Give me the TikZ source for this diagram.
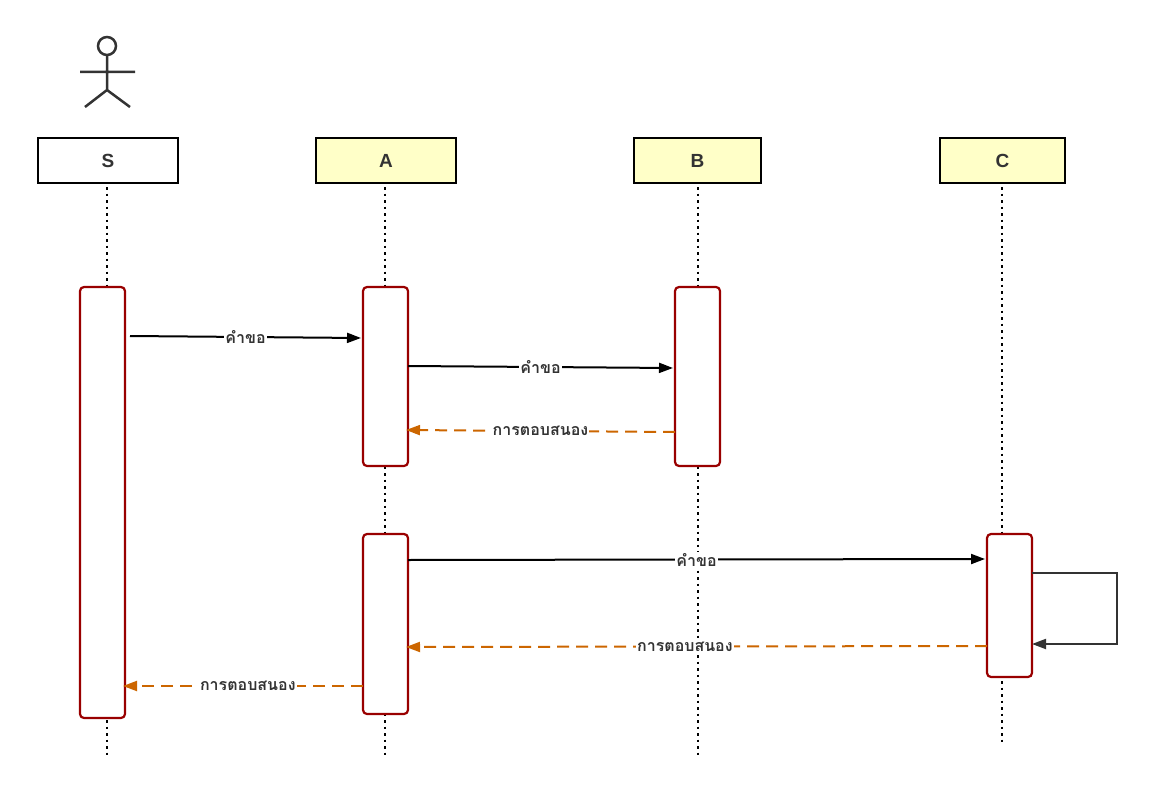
\documentclass[tikz,border=0pt]{standalone}
\usepackage{fontspec}
\setmainfont{Liberation Sans}
\newfontfamily\thaifont[Script=Thai]{Loma}
\usetikzlibrary{arrows.meta}
\definecolor{hdr}{HTML}{FFFFC8}
\definecolor{act}{HTML}{990000}
\definecolor{resp}{HTML}{CC6600}
\definecolor{txt}{HTML}{333333}
\tikzset{
 head/.style={draw=black,line width=2pt,minimum height=45pt,inner sep=0pt,font=\bfseries\fontsize{19}{19}\selectfont,text=txt},
 life/.style={line width=2.5pt,dash pattern=on 2.5pt off 4pt},
 actbox/.style={draw=act,fill=white,line width=2.2pt,rounded corners=4pt},
 msg/.style={line width=2pt,-{Triangle[length=14pt,width=10pt]}},
 rsp/.style={line width=2pt,resp,dash pattern=on 12pt off 7pt,-{Triangle[length=14pt,width=10pt]}},
 lbl/.style={fill=white,inner sep=1pt,font=\thaifont\bfseries\fontsize{16}{16}\selectfont,text=txt}
}
\begin{document}
\begin{tikzpicture}[x=1pt,y=-1pt]
\useasboundingbox (0,0) rectangle (1154,797);
% actor
\begin{scope}[line width=2.5pt,draw=txt]
\draw (107,46) circle (9);
\draw (107,55) -- (107,90) (80,72) -- (135,72) (85,107) -- (107,90) -- (130,107);
\end{scope}
\node[head,minimum width=140pt,fill=white] (S) at (108,160.5) {S};
\node[head,minimum width=140pt,fill=hdr] (A) at (386,160.5) {A};
\node[head,minimum width=127pt,fill=hdr] (B) at (697.5,160.5) {B};
\node[head,minimum width=125pt,fill=hdr] (C) at (1002.5,160.5) {C};
\coordinate (Se) at (107,755); \coordinate (Ae) at (385,755);
\coordinate (Be) at (698,755); \coordinate (Ce) at (1002,745);
\draw[life] (S.south) ++(-1,3) -- (Se); \draw[life] (A.south) ++(-1,3) -- (Ae);
\draw[life] (B.south) ++(0.5,3) -- (Be); \draw[life] (C.south) ++(-0.5,3) -- (Ce);
% activations
\draw[actbox] (80,287) rectangle (125,718);
\draw[actbox] (363,287) rectangle (408,466);
\draw[actbox] (675,287) rectangle (720,466);
\draw[actbox] (363,534) rectangle (408,714);
\draw[actbox] (987,534) rectangle (1032,677);
\coordinate (m1a) at (130,336); \coordinate (m1b) at (361,338);
\coordinate (m2a) at (408,366); \coordinate (m2b) at (673,368);
\coordinate (m3a) at (675,432); \coordinate (m3b) at (406,430);
\coordinate (m4a) at (408,560); \coordinate (m4b) at (985,559);
\coordinate (l1) at (1032,573); \coordinate (l2) at (1032,644);
\coordinate (m5a) at (987,646); \coordinate (m5b) at (406,647);
\coordinate (m6a) at (363,686); \coordinate (m6b) at (123,686);
\draw[msg] (m1a) -- node[lbl]{คำขอ} (m1b);
\draw[msg] (m2a) -- node[lbl]{คำขอ} (m2b);
\draw[rsp] (m3a) -- node[lbl]{การตอบสนอง} (m3b);
\draw[msg] (m4a) -- node[lbl]{คำขอ} (m4b);
\draw[msg,draw=txt] (l1) -- (1117,573) -- (1117,644) -- (l2);
\draw[rsp] (m5a) -- node[lbl,pos=0.52]{การตอบสนอง} (m5b);
\draw[rsp] (m6a) -- node[lbl,pos=0.48]{การตอบสนอง} (m6b);
\end{tikzpicture}
\end{document}
